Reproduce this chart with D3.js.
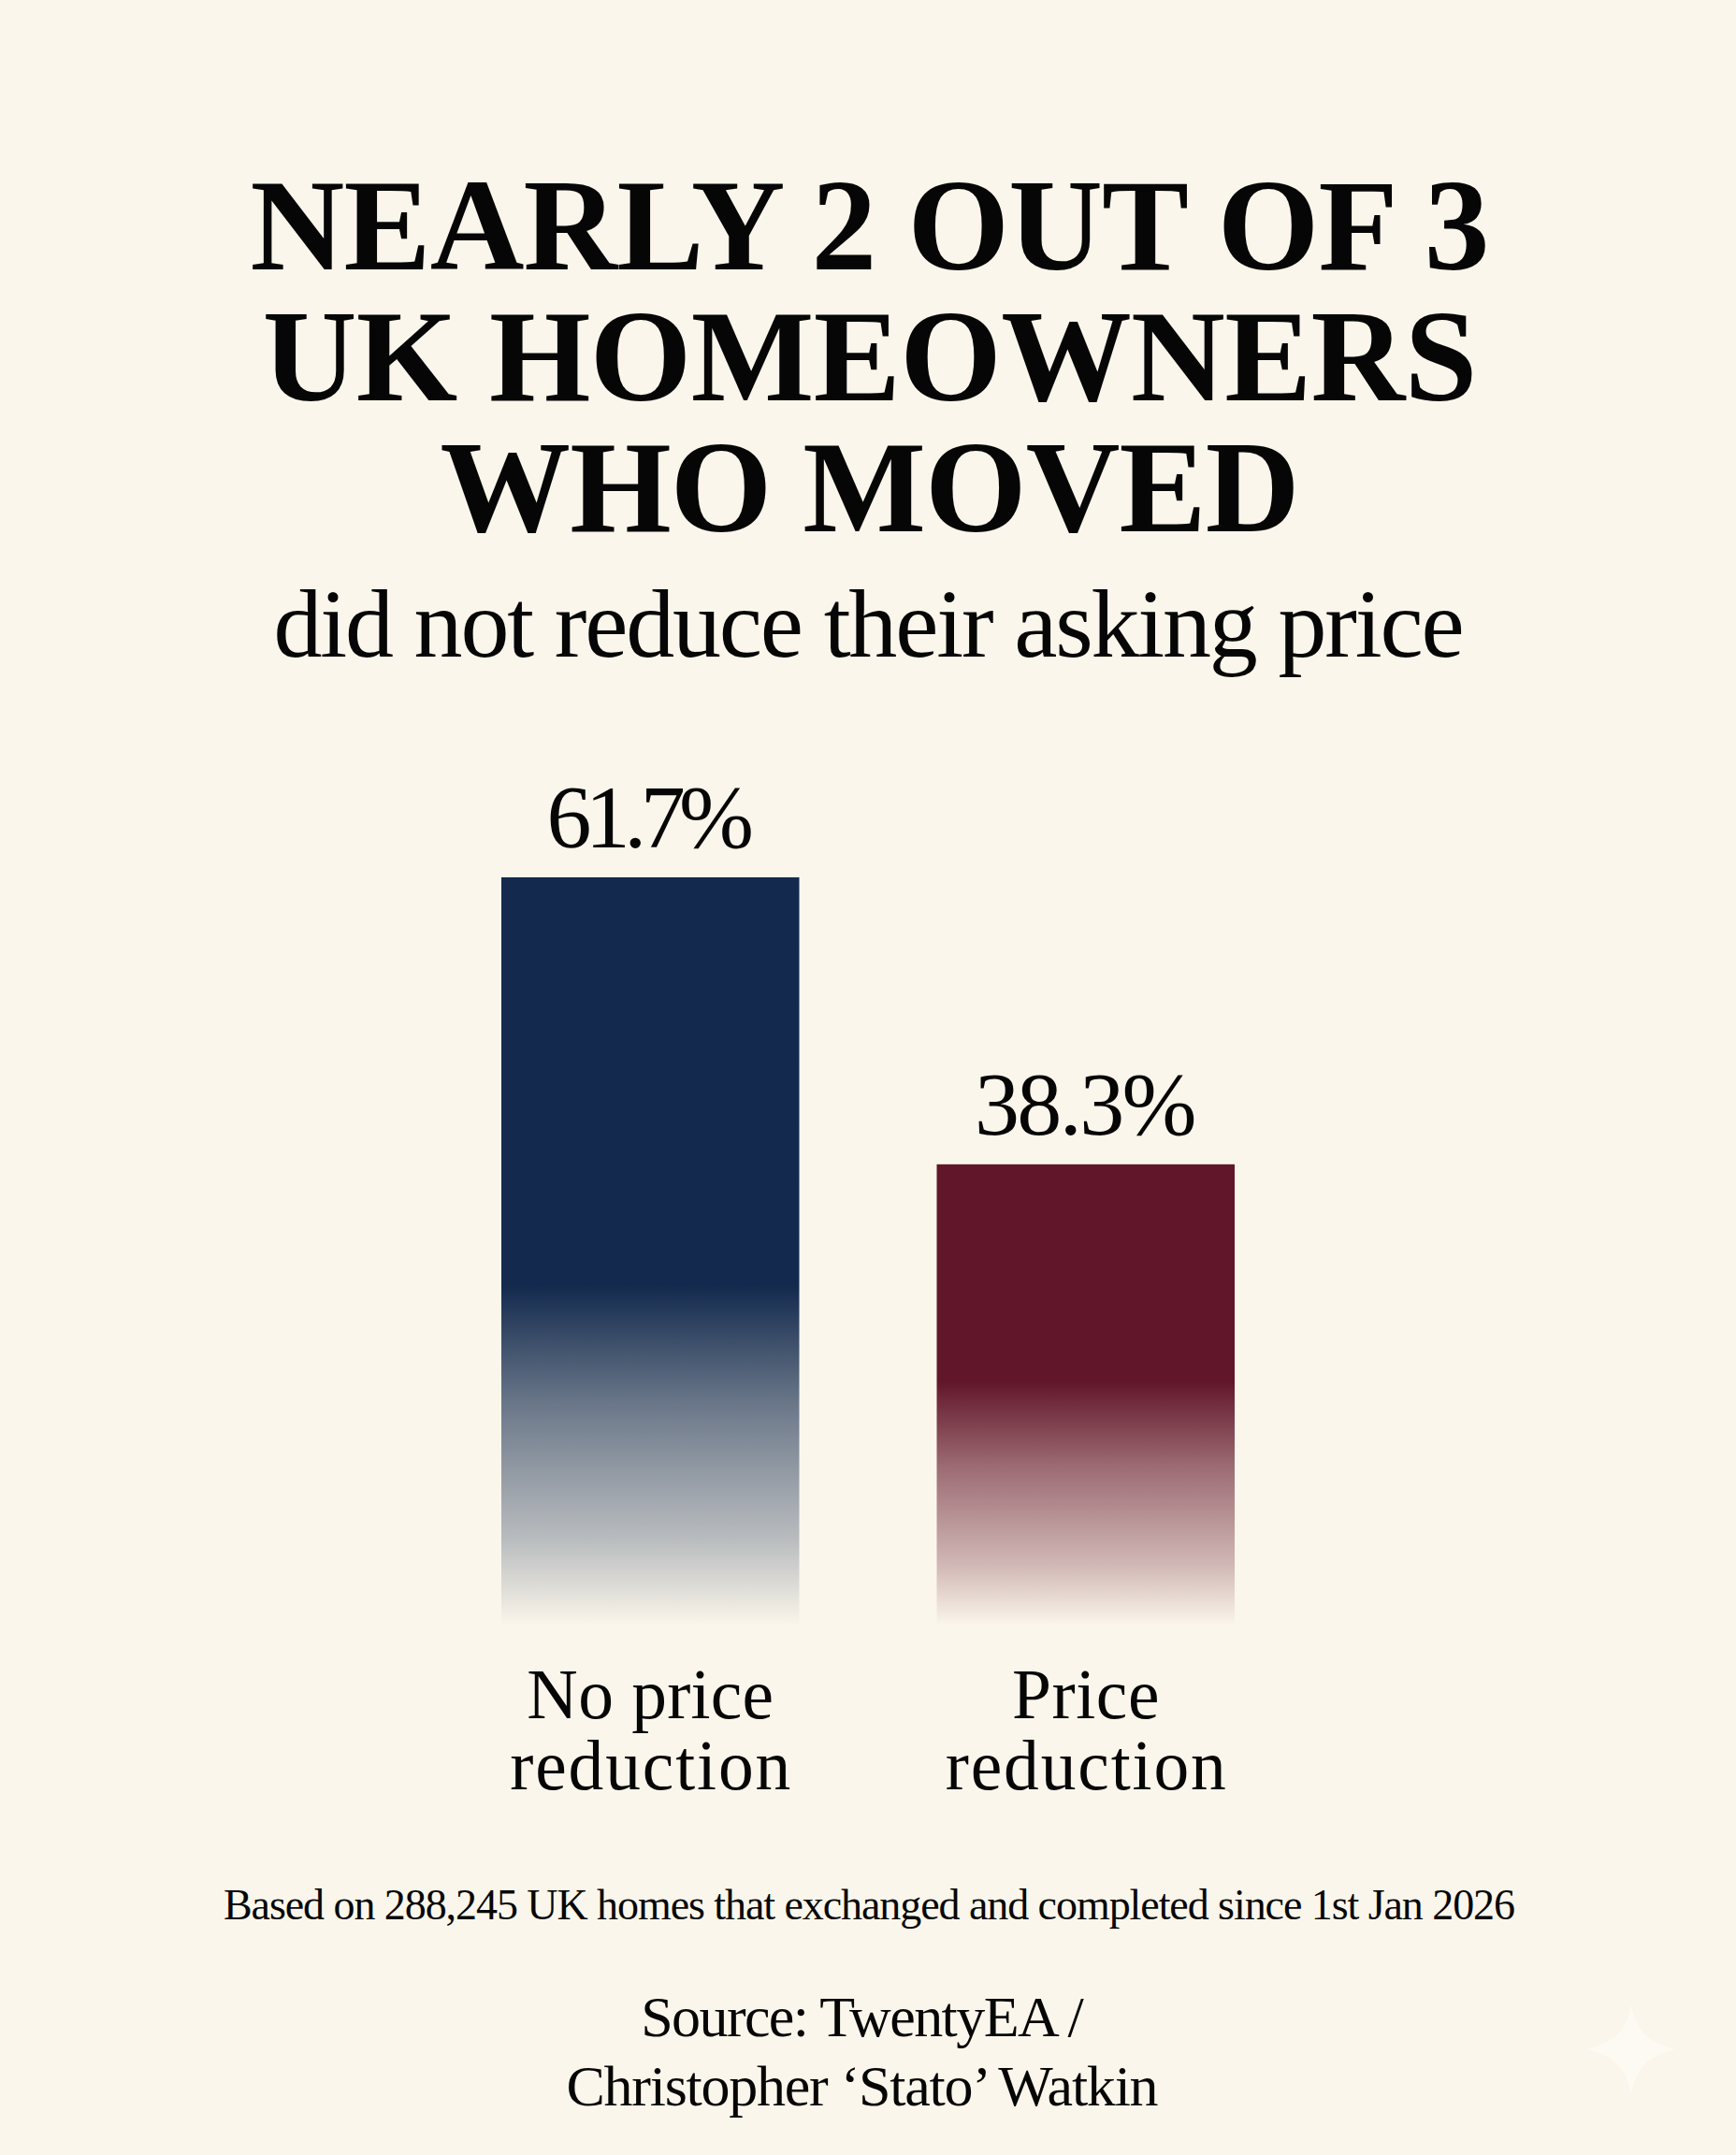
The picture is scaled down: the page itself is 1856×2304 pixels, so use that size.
<!DOCTYPE html>
<html><head><meta charset="utf-8">
<script src="https://cdn.jsdelivr.net/npm/d3@7/dist/d3.min.js"></script>
<style>html,body{margin:0;padding:0;background:#fbf6eb}svg{display:block}</style>
</head><body><svg id="c" width="1856" height="2304"></svg>
<script>
const categories=[["No price","reduction"],["Price","reduction"]];
const values=[61.7,38.3];
const valueLabels=["61.7%","38.3%"];
const colors=["#132a4e","#62162a"];
const fadeStart=[0.54,0.462];
const fadeEnd=[0.989,0.982];
const titleLines=["NEARLY 2 OUT OF 3","UK HOMEOWNERS","WHO MOVED"];
const subtitle="did not reduce their asking price";
const note="Based on 288,245 UK homes that exchanged and completed since 1st Jan 2026";
const sourceLines=["Source: TwentyEA /","Christopher ‘Stato’ Watkin"];
const serif="'Liberation Serif','DejaVu Serif',serif";
const svg=d3.select("#c");
svg.append("rect").attr("width",1856).attr("height",2304).attr("fill","#fbf6eb");
const x=d3.scaleBand().domain(d3.range(values.length)).range([536,1320]).paddingInner(147/465.5).paddingOuter(0);
const y=d3.scaleLinear().domain([0,61.7]).range([1747,938]);
const defs=svg.append("defs");
values.forEach((v,i)=>{
 const g=defs.append("linearGradient").attr("id","g"+i).attr("x1",0).attr("x2",0).attr("y1",0).attr("y2",1);
 const s=fadeStart[i], e=fadeEnd[i];
 g.append("stop").attr("offset",0).attr("stop-color",colors[i]);
 g.append("stop").attr("offset",s).attr("stop-color",colors[i]);
 g.append("stop").attr("offset",s+(e-s)*.35).attr("stop-color",colors[i]).attr("stop-opacity",.62);
 g.append("stop").attr("offset",s+(e-s)*.75).attr("stop-color",colors[i]).attr("stop-opacity",.28);
 g.append("stop").attr("offset",e).attr("stop-color",colors[i]).attr("stop-opacity",0);
});
svg.selectAll("rect.bar").data(values).join("rect").attr("class","bar")
 .attr("x",(d,i)=>x(i)).attr("width",x.bandwidth()).attr("y",d=>y(d)).attr("height",d=>y(0)-y(d))
 .attr("fill",(d,i)=>`url(#g${i})`);
// One <text> per block; each line is a tspan whose tracking is fitted to the reference's width.
function block(lines,xx,baselines,size,widths,weight){
 const t=svg.append("text").attr("text-anchor","middle").attr("font-family",serif)
  .attr("font-size",size).attr("font-weight",weight||400).attr("fill","#060606");
 lines.forEach((s,i)=>{
  const sp=t.append("tspan").text(s).attr("x",xx).attr("y",baselines[i]);
  const ls=(widths[i]-sp.node().getComputedTextLength())/s.length;
  sp.attr("letter-spacing",ls.toFixed(3)).attr("x",xx+ls/2);
 });
 return t;
}
block(titleLines,930,[288,428,568],139.5,[1324,1298,918],700);
block([subtitle],929,[702],104,[1271]);
const valueWidths=[215,235];
const labelWidths=[[264,302],[158,302]];
values.forEach((v,i)=>{
 const cx=x(i)+x.bandwidth()/2;
 block([valueLabels[i]],cx,[y(v)-32],96,[valueWidths[i]]);
 block(categories[i],cx,[1837,1913],75.5,labelWidths[i]);
});
block([note],929.5,[2052],46,[1380]);
block(sourceLines,922,[2177,2251],62,[472,632]);
svg.append("path").attr("d","M1744 2143 C1750 2172 1760 2182 1791 2191 C1760 2200 1750 2210 1744 2240 C1738 2210 1728 2200 1697 2191 C1728 2182 1738 2172 1744 2143Z").attr("fill","#fff").attr("opacity",.45);
</script></body></html>
